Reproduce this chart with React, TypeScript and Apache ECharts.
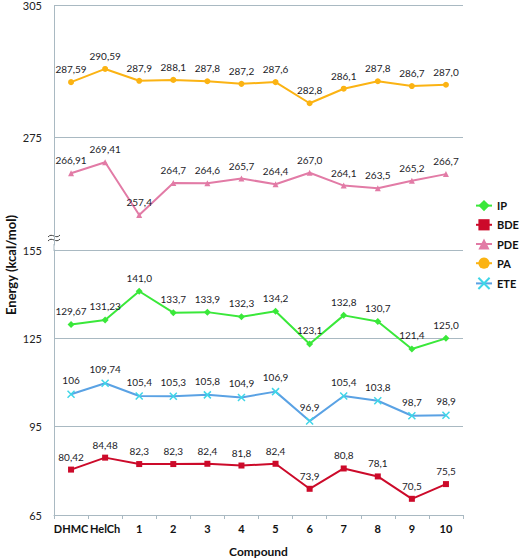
import React, { useEffect, useRef } from "react";
import * as echarts from "echarts";

const categories = ["DHMC", "HelCh", "1", "2", "3", "4", "5", "6", "7", "8", "9", "10"];

const paValues = [287.59, 290.59, 287.9, 288.1, 287.8, 287.2, 287.6, 282.8, 286.1, 287.8, 286.7, 287.0];
const paLabels = ["287,59", "290,59", "287,9", "288,1", "287,8", "287,2", "287,6", "282,8", "286,1", "287,8", "286,7", "287,0"];
const pdeValues = [266.91, 269.41, 257.4, 264.7, 264.6, 265.7, 264.4, 267.0, 264.1, 263.5, 265.2, 266.7];
const pdeLabels = ["266,91", "269,41", "257,4", "264,7", "264,6", "265,7", "264,4", "267,0", "264,1", "263,5", "265,2", "266,7"];
const ipValues = [129.67, 131.23, 141.0, 133.7, 133.9, 132.3, 134.2, 123.1, 132.8, 130.7, 121.4, 125.0];
const ipLabels = ["129,67", "131,23", "141,0", "133,7", "133,9", "132,3", "134,2", "123,1", "132,8", "130,7", "121,4", "125,0"];
const eteValues = [106, 109.74, 105.4, 105.3, 105.8, 104.9, 106.9, 96.9, 105.4, 103.8, 98.7, 98.9];
const eteLabels = ["106", "109,74", "105,4", "105,3", "105,8", "104,9", "106,9", "96,9", "105,4", "103,8", "98,7", "98,9"];
const bdeValues = [80.42, 84.48, 82.3, 82.3, 82.4, 81.8, 82.4, 73.9, 80.8, 78.1, 70.5, 75.5];
const bdeLabels = ["80,42", "84,48", "82,3", "82,3", "82,4", "81,8", "82,4", "73,9", "80,8", "78,1", "70,5", "75,5"];

const upperTicks = [275, 305];
const lowerMin = 65;
const lowerMax = 155;
const lowerInterval = 30;

const FONT = "Lato, 'Open Sans', sans-serif";
const GRID_COLOR = "#a9b9c2";

function series(name: string, values: number[], labels: string[], color: string, symbol: string, symbolSize: number, grid: number) {
  return {
    name,
    type: "line",
    xAxisIndex: grid,
    yAxisIndex: grid,
    data: values,
    symbol,
    symbolSize,
    lineStyle: { color, width: 2 },
    itemStyle: { color },
    label: {
      show: true,
      position: "top",
      distance: 5,
      fontSize: 10,
      fontFamily: FONT,
      color: "#1c1c28",
      formatter: (p: any) => labels[p.dataIndex],
    },
    emphasis: { disabled: true },
  };
}

export default function App() {
  const ref = useRef<HTMLDivElement>(null);
  useEffect(() => {
    if (!ref.current) return;
    const chart = echarts.init(ref.current, undefined, { renderer: "svg" });
    const xCommon = {
      type: "category",
      data: categories,
      boundaryGap: true,
    };
    chart.setOption({
      animation: false,
      backgroundColor: "#ffffff",
      grid: [
        { left: 54, width: 409, top: 4, height: 241 },
        { left: 54, width: 409, top: 250, height: 269 },
      ],
      xAxis: [
        { ...xCommon, gridIndex: 0, show: false },
        {
          ...xCommon,
          gridIndex: 1,
          axisLine: { lineStyle: { color: GRID_COLOR, width: 1 } },
          axisTick: { show: true, length: 4, interval: 0, lineStyle: { color: GRID_COLOR } },
          axisLabel: { interval: 0, fontSize: 11, fontWeight: "bold", fontFamily: FONT, color: "#111", margin: 8 },
          name: "Compound",
          nameLocation: "middle",
          nameGap: 30,
          nameTextStyle: { fontSize: 12, fontWeight: "bold", fontFamily: FONT, color: "#111" },
        },
      ],
      yAxis: [
        {
          type: "value",
          gridIndex: 0,
          min: 250.6,
          max: 305,
          axisLine: { show: true, lineStyle: { color: GRID_COLOR } },
          axisTick: { show: false, customValues: upperTicks },
          axisLabel: { customValues: upperTicks, fontSize: 11, fontFamily: FONT, color: "#222", margin: 12 },
          splitLine: { show: true, lineStyle: { color: GRID_COLOR, width: 1 } },
        },
        {
          type: "value",
          gridIndex: 1,
          min: lowerMin,
          max: lowerMax,
          interval: lowerInterval,
          axisLine: { show: true, lineStyle: { color: GRID_COLOR } },
          axisTick: { show: false },
          axisLabel: { fontSize: 11, fontFamily: FONT, color: "#222", margin: 12 },
          splitLine: { show: true, lineStyle: { color: GRID_COLOR, width: 1 } },
        },
      ],
      legend: {
        orient: "vertical",
        left: 475,
        top: 200,
        padding: 0,
        itemGap: 8,
        itemWidth: 16,
        itemHeight: 14,
        data: ["IP", "BDE", "PDE", "PA", "ETE"],
        textStyle: { fontSize: 11, fontWeight: "bold", fontFamily: FONT, color: "#111" },
      },
      series: [
        series("IP", ipValues, ipLabels, "#3ae83a", "diamond", 7, 1),
        series("BDE", bdeValues, bdeLabels, "#cc0a2a", "rect", 6, 1),
        series("PDE", pdeValues, pdeLabels, "#e27ba6", "triangle", 6, 0),
        series("PA", paValues, paLabels, "#fbb313", "circle", 6, 0),
        {
          ...series("ETE", eteValues, eteLabels, "#5aa2e4", "path://M0,0L10,10M10,0L0,10", 7, 1),
          itemStyle: { color: "#5aa2e4", borderColor: "#3fd6e8", borderWidth: 1.5 },
        },
      ],
      graphic: [
        {
          type: "text",
          x: 11,
          y: 265,
          rotation: Math.PI / 2,
          style: {
            text: "Energy (kcal/mol)",
            fontSize: 13,
            fontWeight: "bold",
            fontFamily: FONT,
            fill: "#111",
            align: "center",
            verticalAlign: "middle",
          },
        },
        { type: "line", shape: { x1: 54, y1: 244, x2: 54, y2: 251 }, style: { stroke: GRID_COLOR, lineWidth: 1 } },
        { type: "rect", shape: { x: 48, y: 234, width: 12, height: 7 }, style: { fill: "#fff" } },
        {
          type: "bezierCurve",
          shape: { x1: 48, y1: 237, cpx1: 52, cpy1: 232, cpx2: 56, cpy2: 240, x2: 60, y2: 235 },
          style: { stroke: "#444", lineWidth: 1, fill: "none" },
        },
        {
          type: "bezierCurve",
          shape: { x1: 48, y1: 241, cpx1: 52, cpy1: 236, cpx2: 56, cpy2: 244, x2: 60, y2: 239 },
          style: { stroke: "#444", lineWidth: 1, fill: "none" },
        },
      ],
    });
    return () => chart.dispose();
  }, []);
  return <div ref={ref} style={{ width: 522, height: 558, position: "absolute", left: 0, top: 0 }} />;
}
